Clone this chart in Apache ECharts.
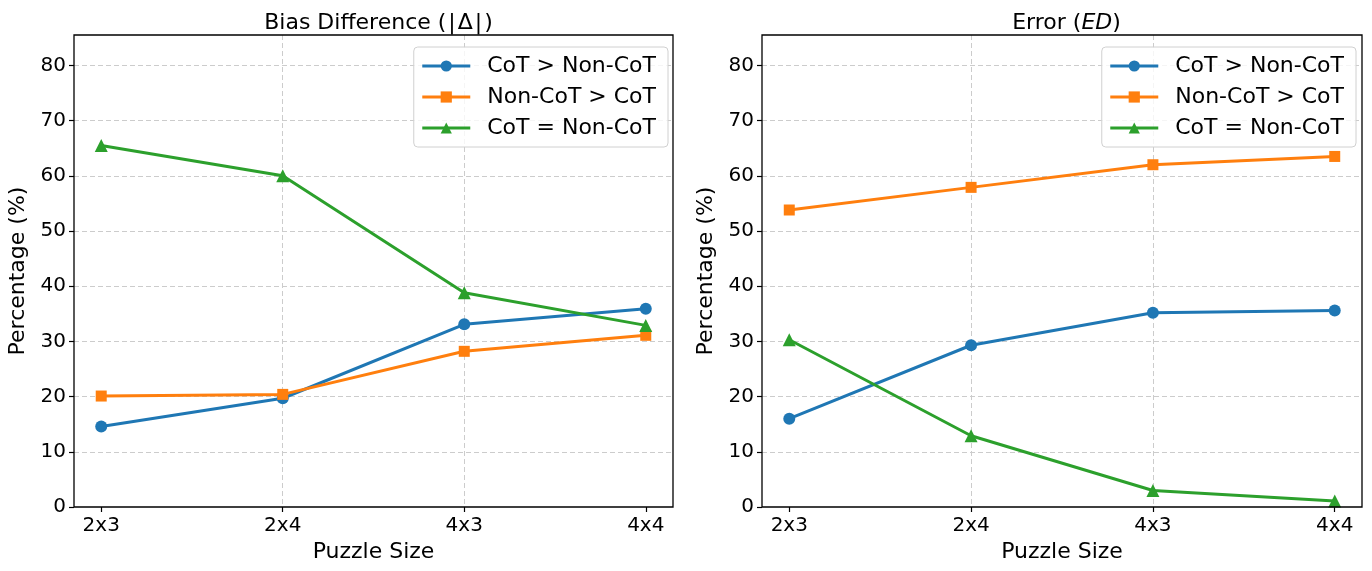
<!DOCTYPE html>
<html><head><meta charset="utf-8">
<script src="https://cdn.jsdelivr.net/npm/echarts@6.0.0/dist/echarts.min.js"></script>
<style>html,body{margin:0;padding:0;background:#fff}#c{width:1372px;height:571px}</style>
</head><body><div id="c"></div>
<script>
const categories = ['2x3', '2x4', '4x3', '4x4'];
const seriesNames = ['CoT > Non-CoT', 'Non-CoT > CoT', 'CoT = Non-CoT'];
const biasCotGreater = [14.6, 19.7, 33.1, 35.9];
const biasNonCotGreater = [20.1, 20.4, 28.2, 31.1];
const biasEqual = [65.5, 60.0, 38.8, 32.9];
const errCotGreater = [16.0, 29.3, 35.2, 35.6];
const errNonCotGreater = [53.8, 57.9, 62.0, 63.5];
const errEqual = [30.3, 12.9, 3.0, 1.1];
const yTicks = [0, 10, 20, 30, 40, 50, 60, 70, 80];

const FONT = 'DejaVu Sans';
const colors = ['#1f77b4', '#ff7f0e', '#2ca02c'];
const symbols = ['circle', 'rect', 'triangle'];
const symbolSizes = [12, 11, 13];
const idx = categories.map((_, i) => i);

function pairs(vals) { return vals.map((v, i) => [idx[i], v]); }

const grids = [
  { left: 74, right: 699, top: 35, bottom: 64 },
  { left: 762, right: 10, top: 35, bottom: 64 }
].map(g => Object.assign(g, { show: true, borderColor: '#000', borderWidth: 1.3, backgroundColor: 'transparent', z: 10 }));

function xAxis(gi) {
  return {
    gridIndex: gi, type: 'value', min: -0.15, max: 3.15,
    name: 'Puzzle Size', nameLocation: 'middle', nameGap: 32,
    nameTextStyle: { fontFamily: FONT, fontSize: 22, color: '#000' },
    axisLine: { show: false, onZero: false },
    axisTick: { show: true, inside: false, length: 5, customValues: idx, lineStyle: { color: '#000', width: 1.2 } },
    axisLabel: { customValues: idx, formatter: v => categories[Math.round(v)] || '', fontFamily: FONT, fontSize: 20, color: '#000', margin: 9 },
    splitLine: { show: true, showMinLine: false, showMaxLine: false, lineStyle: { type: [5, 3], color: '#cccccc', width: 1 } }
  };
}
function yAxis(gi) {
  return {
    gridIndex: gi, type: 'value', min: 0, max: 85.5, interval: 10,
    name: 'Percentage (%)', nameLocation: 'middle', nameGap: 45, nameRotate: 90,
    nameTextStyle: { fontFamily: FONT, fontSize: 22, color: '#000' },
    axisLine: { show: false, onZero: false },
    axisTick: { show: true, length: 5, lineStyle: { color: '#000', width: 1.2 } },
    axisLabel: { showMaxLabel: false, formatter: v => (yTicks.indexOf(v) >= 0 ? String(v) : ''), fontFamily: FONT, fontSize: 20, color: '#000', margin: 8 },
    splitLine: { show: true, showMinLine: false, showMaxLine: false, lineStyle: { type: [5, 3], color: '#cccccc', width: 1 } }
  };
}

function makeSeries(gi, arrs) {
  return arrs.map((vals, k) => ({
    name: seriesNames[k], type: 'line', xAxisIndex: gi, yAxisIndex: gi,
    data: pairs(vals), symbol: symbols[k], symbolSize: symbolSizes[k],
    showAllSymbol: true, clip: false,
    lineStyle: { width: 3, color: colors[k] },
    itemStyle: { color: colors[k] },
    emphasis: { disabled: true }, z: 3 + k
  }));
}

function legend(rightPx) {
  return {
    orient: 'vertical', right: rightPx, top: 47, z: 20,
    data: seriesNames.map((n, k) => ({ name: n, itemStyle: { color: colors[k] }, lineStyle: { width: 3, color: colors[k] } })),
    itemWidth: 48, itemHeight: 14, itemGap: 9,
    padding: [8, 12, 8, 7],
    backgroundColor: 'rgba(255,255,255,0.8)', borderColor: '#d0d0d0', borderWidth: 1, borderRadius: 4,
    textStyle: { fontFamily: FONT, fontSize: 22, lineHeight: 22, color: '#000', padding: [0, 0, 0, 12] },
    selectedMode: false
  };
}

const titleText = { fontFamily: FONT, fontSize: 22, fontWeight: 'normal', color: '#000' };
const option = {
  animation: false,
  color: colors,
  title: [
    { text: '{n|Bias Difference (}{b||}{n|Δ}{b||}{n|)}', left: 373.5, textAlign: 'center', top: 7,
      textStyle: Object.assign({}, titleText, { rich: { n: titleText, b: Object.assign({}, titleText, { padding: [0, 2, 0, 2] }) } }) },
    { text: '{n|Error (}{i|ED}{n|)}', left: 1061.5, textAlign: 'center', top: 7,
      textStyle: Object.assign({}, titleText, { rich: { n: titleText, i: Object.assign({}, titleText, { fontStyle: 'italic' }) } }) }
  ],
  grid: grids,
  xAxis: [xAxis(0), xAxis(1)],
  yAxis: [yAxis(0), yAxis(1)],
  legend: [legend(704), legend(16)],
  series: makeSeries(0, [biasCotGreater, biasNonCotGreater, biasEqual])
    .concat(makeSeries(1, [errCotGreater, errNonCotGreater, errEqual]))
};
const chart = echarts.init(document.getElementById('c'), null, { renderer: 'canvas' });
chart.setOption(option);
</script></body></html>
